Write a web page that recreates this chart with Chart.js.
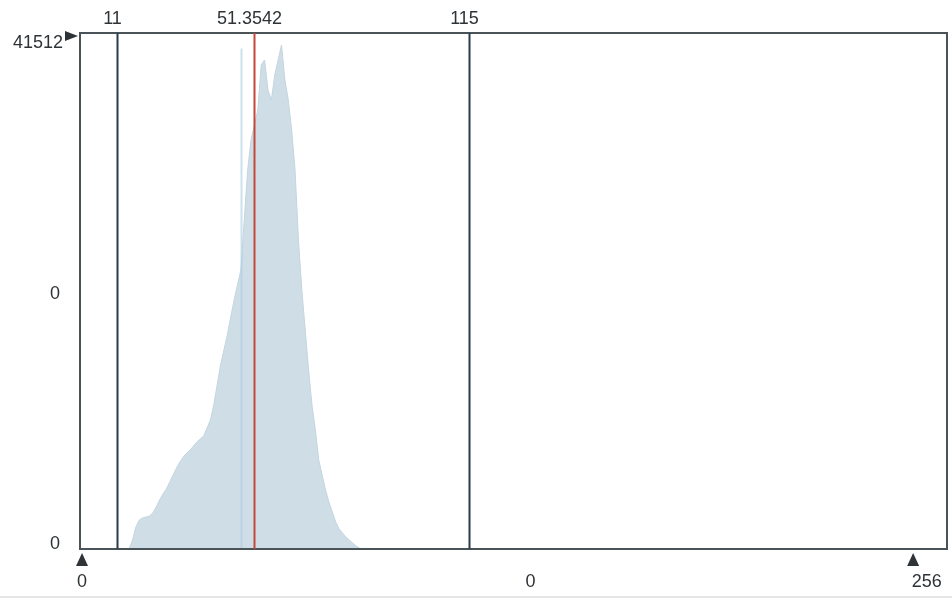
<!DOCTYPE html>
<html>
<head>
<meta charset="utf-8">
<script src="https://cdn.jsdelivr.net/npm/chart.js@4/dist/chart.umd.min.js"></script>
<style>
  html, body { margin: 0; padding: 0; background: #fff; }
  #wrap { width: 952px; height: 603px; }
</style>
</head>
<body>
<div id="wrap"><canvas id="histChart" width="952" height="603"></canvas></div>
<script>
// histogram bins (grey level) and counts
const binStart = 14;
const counts = [0, 724, 1770, 2333, 2494, 2574, 2655, 2896, 3379, 3942, 4425,
  4827, 5390, 5953, 6516, 6999, 7401, 7723, 7965, 8286, 8608,
  8850, 9091, 9734, 10378, 11587, 13196, 14805, 16012, 17218, 18664,
  20032, 21239, 22445, 26468, 30490, 32904, 34111, 35317, 38937, 39340,
  36926, 36122, 38133, 39340, 40546, 37731, 36122, 33708, 30490, 24859,
  20837, 17618, 14400, 11585, 9573, 7160, 5953, 4747, 3781, 2977,
  2172, 1609, 1287, 965, 724, 483, 241, 80, 0];

const xMin = 0, xMax = 256;
const yMax = 41512;

// cursor lines: low, mean, high
const markerValues = [11, 51.3542, 115];
const markerLabels = ['11', '51.3542', '115'];
const markerColors = ['#2b3b4c', '#c4483a', '#2b3b4c'];
const faintLineValue = 47.5;

const yTickValues = [41512, 20500, 0];
const yTickLabels = ['41512', '0', '0'];
const xTickValues = [0.6, 133, 250];
const xTickLabels = ['0', '0', '256'];
const xArrowValues = [0.6, 246];

const points = counts.map((c, i) => ({ x: binStart + i + 0.5, y: c }));

const overlay = {
  id: 'overlay',
  afterDatasetsDraw(chart) {
    const ctx = chart.ctx;
    const area = chart.chartArea;
    const xs = chart.scales.x, ys = chart.scales.y;
    ctx.save();

    // faint light-blue line inside the histogram
    let fx = Math.round(xs.getPixelForValue(faintLineValue)) + 0.5;
    ctx.strokeStyle = 'rgba(170,205,225,0.6)';
    ctx.lineWidth = 2;
    ctx.beginPath();
    ctx.moveTo(fx, ys.getPixelForValue(yMax * 0.97));
    ctx.lineTo(fx, area.bottom);
    ctx.stroke();

    // frame
    ctx.strokeStyle = '#4a5458';
    ctx.lineWidth = 2;
    ctx.strokeRect(area.left, area.top, area.right - area.left, area.bottom - area.top);

    ctx.font = '18px "Liberation Sans", Arial, sans-serif';
    const textColor = '#2e3337';
    ctx.fillStyle = textColor;

    // cursor lines and their labels
    markerValues.forEach((v, i) => {
      const px = Math.round(xs.getPixelForValue(v)) + 0.5;
      ctx.strokeStyle = markerColors[i];
      ctx.lineWidth = 2;
      ctx.beginPath();
      ctx.moveTo(px, area.top);
      ctx.lineTo(px, area.bottom);
      ctx.stroke();
      ctx.textAlign = 'center';
      ctx.textBaseline = 'middle';
      ctx.fillStyle = textColor;
      ctx.fillText(markerLabels[i], px - 5, 19);
    });

    // y labels
    ctx.textAlign = 'right';
    yTickValues.forEach((v, i) => {
      let py = ys.getPixelForValue(v);
      if (i === 0) py += 10;
      if (i === 2) py -= 5;
      ctx.fillText(yTickLabels[i], i === 0 ? 63 : 60, py);
    });
    // arrow next to the max label
    ctx.beginPath();
    ctx.moveTo(65, area.top - 2);
    ctx.lineTo(78, area.top + 3);
    ctx.lineTo(65, area.top + 8);
    ctx.closePath();
    ctx.fill();

    // x labels
    ctx.textAlign = 'center';
    xTickValues.forEach((v, i) => {
      ctx.fillText(xTickLabels[i], xs.getPixelForValue(v), area.bottom + 33);
    });
    // arrows under the axis
    xArrowValues.forEach(v => {
      const px = xs.getPixelForValue(v);
      ctx.beginPath();
      ctx.moveTo(px, area.bottom + 4);
      ctx.lineTo(px + 6, area.bottom + 17);
      ctx.lineTo(px - 6, area.bottom + 17);
      ctx.closePath();
      ctx.fill();
    });

    // faint page edge at the bottom
    ctx.strokeStyle = '#e4e6e8';
    ctx.lineWidth = 2;
    ctx.beginPath();
    ctx.moveTo(0, 597);
    ctx.lineTo(952, 597);
    ctx.stroke();

    ctx.restore();
  }
};

new Chart(document.getElementById('histChart').getContext('2d'), {
  type: 'line',
  data: {
    datasets: [{
      data: points,
      borderColor: '#c3d5df',
      backgroundColor: '#cfdee6',
      borderWidth: 1,
      pointRadius: 0,
      fill: 'origin',
      tension: 0
    }]
  },
  options: {
    responsive: false,
    animation: false,
    layout: { padding: { left: 80, right: 5, top: 33, bottom: 54 } },
    plugins: { legend: { display: false }, tooltip: { enabled: false } },
    scales: {
      x: { type: 'linear', min: xMin, max: xMax, display: false },
      y: { min: 0, max: yMax, display: false }
    }
  },
  plugins: [overlay]
});
</script>
</body>
</html>
